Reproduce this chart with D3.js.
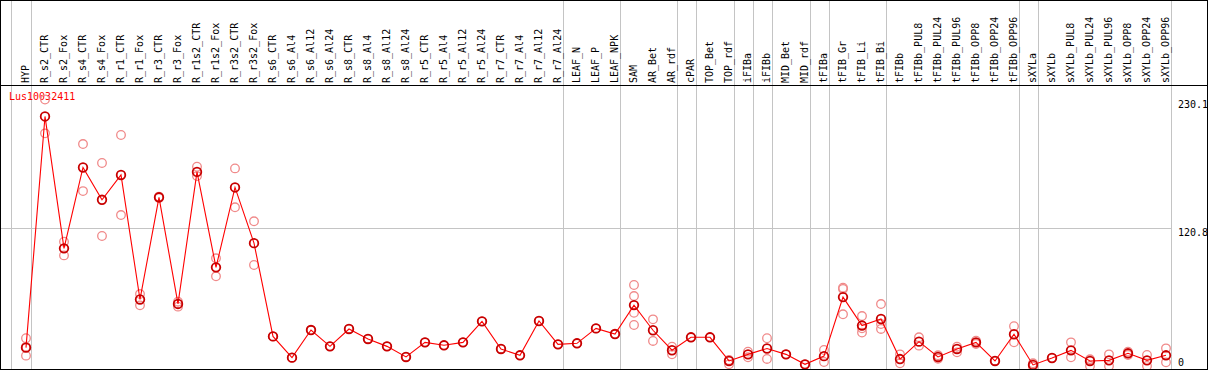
<!DOCTYPE html>
<html lang="en">
<head>
<meta charset="UTF-8">
<title>Lus10032411</title>
<script src="https://d3js.org/d3.v7.min.js"></script>
<style>
  body { margin: 0; background: #fff; }
  text { font-family: "DejaVu Sans Mono", monospace; font-size: 10px; }
</style>
</head>
<body>
<script>
const width = 1209;
const height = 370;

const geneName = "Lus10032411";

const samples = ["HYP","R_s2_CTR","R_s2_Fox","R_s4_CTR","R_s4_Fox","R_r1_CTR","R_r1_Fox",
  "R_r3_CTR","R_r3_Fox","R_r1s2_CTR","R_r1s2_Fox","R_r3s2_CTR","R_r3s2_Fox","R_s6_CTR",
  "R_s6_Al4","R_s6_Al12","R_s6_Al24","R_s8_CTR","R_s8_Al4","R_s8_Al12","R_s8_Al24",
  "R_r5_CTR","R_r5_Al4","R_r5_Al12","R_r5_Al24","R_r7_CTR","R_r7_Al4","R_r7_Al12","R_r7_Al24",
  "LEAF_N","LEAF_P","LEAF_NPK","SAM","AR_Bet","AR_rdf","cPAR","TOP_Bet","TOP_rdf","iFIBa",
  "iFIBb","MID_Bet","MID_rdf","tFIBa","tFIB_Gr","tFIB_Li","tFIB_Bi","tFIBb","tFIBb_PUL8",
  "tFIBb_PUL24","tFIBb_PUL96","tFIBb_OPP8","tFIBb_OPP24","tFIBb_OPP96","sXYLa","sXYLb",
  "sXYLb_PUL8","sXYLb_PUL24","sXYLb_PUL96","sXYLb_OPP8","sXYLb_OPP24","sXYLb_OPP96"];

// mean expression per sample
const means = [19.0,215.7,103.5,172.3,144.8,165.9,60.0,146.9,56.2,168.5,87.3,155.3,107.9,28.6,
  10.5,34.0,20.1,34.9,26.4,20.1,11.1,23.5,21.0,23.5,41.4,17.9,12.5,41.7,21.8,22.7,35.4,30.6,
  55.2,33.8,16.8,27.8,27.8,7.7,13.3,18.3,13.3,4.8,11.8,62.0,37.8,43.4,9.3,24.1,11.1,17.9,23.5,
  7.7,30.4,4.3,10.2,16.7,7.7,8.2,14.2,8.2,12.5];

// individual replicates
const replicates = [[27.0,19.8,12.2],[230.1,201.3],[109.1,97.5],[192.2,152.2],[176.1,114.0],
  [199.9,131.8],[64.6,55.0],[147.5,146.3],[58.1,53.9],[172.9,165.0],[95.0,79.7],[171.5,138.4],
  [126.5,89.3],[28.6],[10.5],[34.0],[20.1],[34.9],[26.4],[20.1],[11.1],[23.5],[21.0],[23.5],
  [41.4],[17.9],[12.5],[41.7],[21.8],[22.7],[35.4],[30.6],[72.3,62.9,48.7,38.3],[43.1,24.7],
  [19.8,13.3],[27.8],[27.8],[8.5,4.8],[15.6,10.8],[27.0,9.4],[13.3],[4.8],[17.0,6.8],
  [70.0,68.9,47.4],[45.9,35.5,31.8],[56.1,39.1,34.9],[13.3,5.7],[27.8,20.7],[12.5,9.6],
  [19.8,15.0],[24.9,22.1],[7.7],[37.2,23.5],[5.7,2.8],[10.2],[23.5,10.8],[9.1,3.4],[13.3,3.4],
  [15.6,12.8],[12.8,3.4],[18.4,6.5]];

// samples after which a group separator is drawn
const groupEnds = ["HYP","R_r7_Al24","LEAF_NPK","AR_rdf","cPAR","TOP_rdf","iFIBa","iFIBb",
  "MID_rdf","tFIBa","tFIB_Bi","tFIBb_OPP96","sXYLa","sXYLb_OPP96"];

const yTicks = [230.1, 120.8, 0];
const refLine = 120.8;

const svg = d3.select("body").append("svg")
  .attr("width", width)
  .attr("height", height);

const x = d3.scalePoint().domain(samples).range([26, 1166]);
const y = d3.scaleLinear().domain([0, 230.1]).range([370, 99.5]);

// vertical group separators
const sepX = [x(samples[0]) - 15.5].concat(groupEnds.map(s => x(s) + 4.5));
svg.append("g").selectAll("line")
  .data(sepX)
  .join("line")
  .attr("x1", d => Math.round(d) + 0.5)
  .attr("x2", d => Math.round(d) + 0.5)
  .attr("y1", 0)
  .attr("y2", height)
  .attr("stroke", "#c4c4c4");

// horizontal reference line
svg.append("line")
  .attr("x1", 0).attr("x2", Math.round(x(samples[samples.length - 1]) + 4.5))
  .attr("y1", Math.round(y(refLine)) + 0.5)
  .attr("y2", Math.round(y(refLine)) + 0.5)
  .attr("stroke", "#c4c4c4");

// header band separator
svg.append("line")
  .attr("x1", 0).attr("x2", 1208)
  .attr("y1", 85.5).attr("y2", 85.5)
  .attr("stroke", "#000");

// sample labels
svg.append("g").selectAll("text")
  .data(samples)
  .join("text")
  .attr("transform", d => `translate(${x(d) - 1},83) rotate(-90)`)
  .attr("dy", "0.35em")
  .attr("fill", "#000")
  .text(d => d);

// right-hand value labels
svg.append("g").selectAll("text")
  .data(yTicks)
  .join("text")
  .attr("x", 1178)
  .attr("y", d => Math.min(y(d) + 4.5, 362))
  .attr("dy", "0.35em")
  .attr("fill", "#000")
  .text(d => d);

svg.append("text")
  .attr("x", 9)
  .attr("y", 100)
  .attr("fill", "#ff0000")
  .text(geneName);

// replicate points
const reps = [];
replicates.forEach((r, i) => r.forEach(v => reps.push({ s: samples[i], v: v })));
svg.append("g").selectAll("circle")
  .data(reps)
  .join("circle")
  .attr("cx", d => x(d.s))
  .attr("cy", d => y(d.v))
  .attr("r", 4.3)
  .attr("fill", "none")
  .attr("stroke", "#f08a8a")
  .attr("stroke-width", 1.3);

// mean line
const line = d3.line()
  .x((d, i) => x(samples[i]))
  .y(d => y(d));
svg.append("path")
  .datum(means)
  .attr("d", line)
  .attr("fill", "none")
  .attr("stroke", "#ff0000")
  .attr("stroke-width", 1.1);

// mean points
svg.append("g").selectAll("circle")
  .data(means)
  .join("circle")
  .attr("cx", (d, i) => x(samples[i]))
  .attr("cy", d => y(d))
  .attr("r", 4.3)
  .attr("fill", "none")
  .attr("stroke", "#c80000")
  .attr("stroke-width", 1.8);

// outer frame
svg.append("rect")
  .attr("x", 0.5).attr("y", 0.5)
  .attr("width", 1207).attr("height", 369)
  .attr("fill", "none")
  .attr("stroke", "#000");
</script>
</body>
</html>
